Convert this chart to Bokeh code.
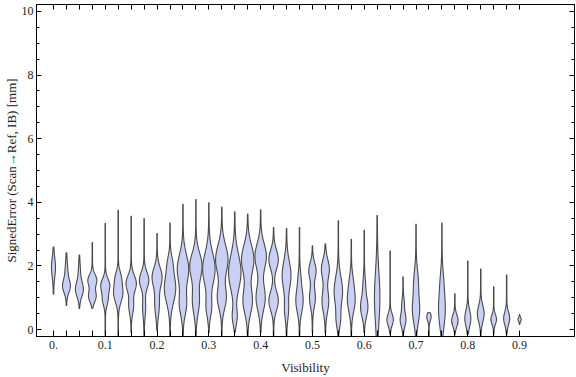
import numpy as np
from bokeh.plotting import figure
from bokeh.models import FixedTicker, LinearAxis, Range1d
from bokeh.embed import file_html
from bokeh.resources import INLINE

# ---- data ----
visibility = [0.0, 0.025, 0.05, 0.075, 0.1, 0.125, 0.15, 0.175, 0.2, 0.225,
              0.25, 0.275, 0.3, 0.325, 0.35, 0.375, 0.4, 0.425, 0.45, 0.475,
              0.5, 0.525, 0.55, 0.575, 0.6, 0.625, 0.65, 0.675, 0.7, 0.725,
              0.75, 0.775, 0.8, 0.825, 0.85, 0.875, 0.9]
err_min = [1.1, 0.75, 0.66, 0.66, -0.19, -0.4, -0.1, -0.37, -0.05, -0.4,
           -0.5, -0.56, -0.1, -0.63, -0.1, -0.4, -0.1, -0.52, -0.37, -0.88,
           -0.1, -0.1, -0.88, -0.73, -0.1, -1.19, -0.16, -0.31, -1.04, -0.25,
           -1.13, -0.16, -0.16, -0.37, -0.16, -0.16, 0.16]
err_max = [2.6, 2.42, 2.35, 2.74, 3.35, 3.76, 3.57, 3.5, 3.03, 3.36,
           3.95, 4.1, 4.0, 3.86, 3.71, 3.64, 3.78, 3.22, 3.19, 3.22,
           2.64, 2.7, 3.43, 2.85, 3.13, 3.6, 2.48, 1.66, 3.32, 0.53,
           3.36, 1.13, 2.16, 1.91, 1.35, 1.72, 0.47]
density_peak = [0.30, 0.62, 0.63, 0.72, 0.72, 0.75, 0.83, 0.75, 0.80, 0.92,
                0.92, 1.0, 1.0, 1.0, 1.0, 1.0, 0.92, 0.75, 0.70, 0.58,
                0.58, 0.63, 0.67, 0.62, 0.58, 0.42, 0.50, 0.45, 0.58, 0.33,
                0.53, 0.50, 0.47, 0.53, 0.43, 0.47, 0.23]
mode1_center = [1.95, 1.35, 1.25, 1.55, 1.4, 1.15, 1.45, 1.55, 1.65, 1.3,
                1.9, 2.0, 1.9, 2.2, 1.8, 2.2, 2.3, 2.2, 1.7, 0.9,
                1.85, 1.9, 1.2, 0.9, 0.7, 1.0, 0.31, 0.3, 0.6, 0.4,
                0.6, 0.28, 0.35, 0.5, 0.32, 0.35, 0.32]
mode1_spread = [0.3, 0.2, 0.22, 0.18, 0.2, 0.28, 0.25, 0.25, 0.3, 0.45,
                0.45, 0.4, 0.5, 0.45, 0.55, 0.45, 0.4, 0.3, 0.45, 0.35,
                0.25, 0.3, 0.45, 0.35, 0.3, 0.8, 0.18, 0.2, 0.4, 0.12,
                0.5, 0.18, 0.25, 0.25, 0.15, 0.2, 0.06]
mode2_center = [1.95, 1.8, 1.75, 1.05, 0.95, 1.65, 0.75, 0.7, 0.8, 2.1,
                0.8, 0.9, 0.7, 1.0, 0.4, 0.9, 1.0, 0.9, 0.6, 1.6,
                1.0, 0.9, 0.3, 1.5, 1.4, 1.0, 0.31, 0.8, 1.5, 0.4,
                1.5, 0.28, 0.35, 0.5, 0.32, 0.35, 0.32]
mode2_spread = [0.3, 0.3, 0.3, 0.18, 0.2, 0.2, 0.25, 0.3, 0.35, 0.25,
                0.35, 0.4, 0.3, 0.35, 0.25, 0.4, 0.4, 0.3, 0.3, 0.3,
                0.3, 0.35, 0.25, 0.3, 0.3, 0.8, 0.18, 0.2, 0.4, 0.12,
                0.4, 0.18, 0.25, 0.25, 0.15, 0.2, 0.06]
mode2_weight = [0.0, 0.35, 0.25, 0.85, 0.6, 0.5, 0.45, 0.3, 0.45, 0.3,
                0.6, 0.55, 0.4, 0.7, 0.35, 0.75, 0.8, 1.0, 0.4, 0.3,
                0.8, 0.85, 0.4, 0.4, 0.3, 0.0, 0.0, 0.4, 0.6, 0.0,
                0.4, 0.0, 0.0, 0.0, 0.0, 0.0, 0.0]

x_tick_labels = {0.0: "0.", 0.1: "0.1", 0.2: "0.2", 0.3: "0.3", 0.4: "0.4",
                 0.5: "0.5", 0.6: "0.6", 0.7: "0.7", 0.8: "0.8", 0.9: "0.9"}
y_major_ticks = [0, 2, 4, 6, 8, 10]
y_minor_ticks = [0.5, 1, 1.5, 2.5, 3, 3.5, 4.5, 5, 5.5, 6.5, 7, 7.5,
                 8.5, 9, 9.5]
x_title = "Visibility"
y_title = "SignedError (Scan\u2192Ref, IB) [mm]"

# ---- build violin outlines ----
HALF_MAX = 0.0116  # x-units for the widest violin's half width
FLOOR = 0.0004

xs, ys = [], []
for i, xc in enumerate(visibility):
    yy = np.linspace(err_min[i], err_max[i], 160)
    d = np.exp(-0.5 * ((yy - mode1_center[i]) / mode1_spread[i]) ** 2)
    d = d + mode2_weight[i] * np.exp(-0.5 * ((yy - mode2_center[i]) / mode2_spread[i]) ** 2)
    d = d / d.max() * density_peak[i] * HALF_MAX + FLOOR
    d[0] = 0.0
    d[-1] = 0.0
    xs.append(list(np.concatenate([xc - d, (xc + d)[::-1]])))
    ys.append(list(np.concatenate([yy, yy[::-1]])))

p = figure(width=576, height=377, output_backend="svg", toolbar_location=None,
           x_range=Range1d(-0.0328, 1.006), y_range=Range1d(-0.22, 10.22),
           x_axis_location=None, y_axis_location=None,
           min_border_left=34, min_border_right=2, min_border_top=4,
           min_border_bottom=40)
p.xgrid.visible = False
p.ygrid.visible = False
p.outline_line_color = "black"
p.outline_line_width = 1
p.background_fill_color = "white"

p.patches(xs, ys, fill_color="#c9d0f3", line_color="#4a4a4a", line_width=1.1)

FONT = "Liberation Serif"

def style_axis(ax, labels=True):
    ax.axis_line_color = "black"
    ax.major_tick_line_color = "black"
    ax.minor_tick_line_color = "black"
    ax.major_tick_out = 0
    ax.minor_tick_out = 0
    ax.major_label_text_font = FONT
    ax.major_label_text_font_size = "12px" if labels else "0px"
    ax.major_label_text_color = "#222222"
    ax.axis_label_text_font = FONT
    ax.axis_label_text_font_size = "13px"
    ax.axis_label_text_font_style = "normal"
    ax.axis_label_text_color = "#222222"

xticker = FixedTicker(ticks=visibility, minor_ticks=[])
overrides = {t: x_tick_labels.get(t, "") for t in visibility}

bottom = LinearAxis(ticker=xticker, axis_label=x_title)
style_axis(bottom)
bottom.major_label_overrides = overrides
bottom.major_tick_in = 6
bottom.major_label_standoff = 4
bottom.axis_label_standoff = 8
p.add_layout(bottom, "below")

top = LinearAxis(ticker=xticker)
style_axis(top, labels=False)
top.major_tick_in = 5
top.major_label_standoff = 0
top.major_label_overrides = {t: "" for t in visibility}
p.add_layout(top, "above")

yticker = FixedTicker(ticks=y_major_ticks, minor_ticks=y_minor_ticks)
left = LinearAxis(ticker=yticker, axis_label=y_title)
style_axis(left)
left.major_tick_in = 5
left.minor_tick_in = 3
left.major_label_standoff = 3
left.axis_label_standoff = 0
p.add_layout(left, "left")

right = LinearAxis(ticker=yticker)
style_axis(right, labels=False)
right.major_tick_in = 5
right.minor_tick_in = 3
right.major_label_standoff = 0
right.major_label_overrides = {t: "" for t in y_major_ticks}
p.add_layout(right, "right")

open("out.html", "w").write(file_html(p, INLINE))
